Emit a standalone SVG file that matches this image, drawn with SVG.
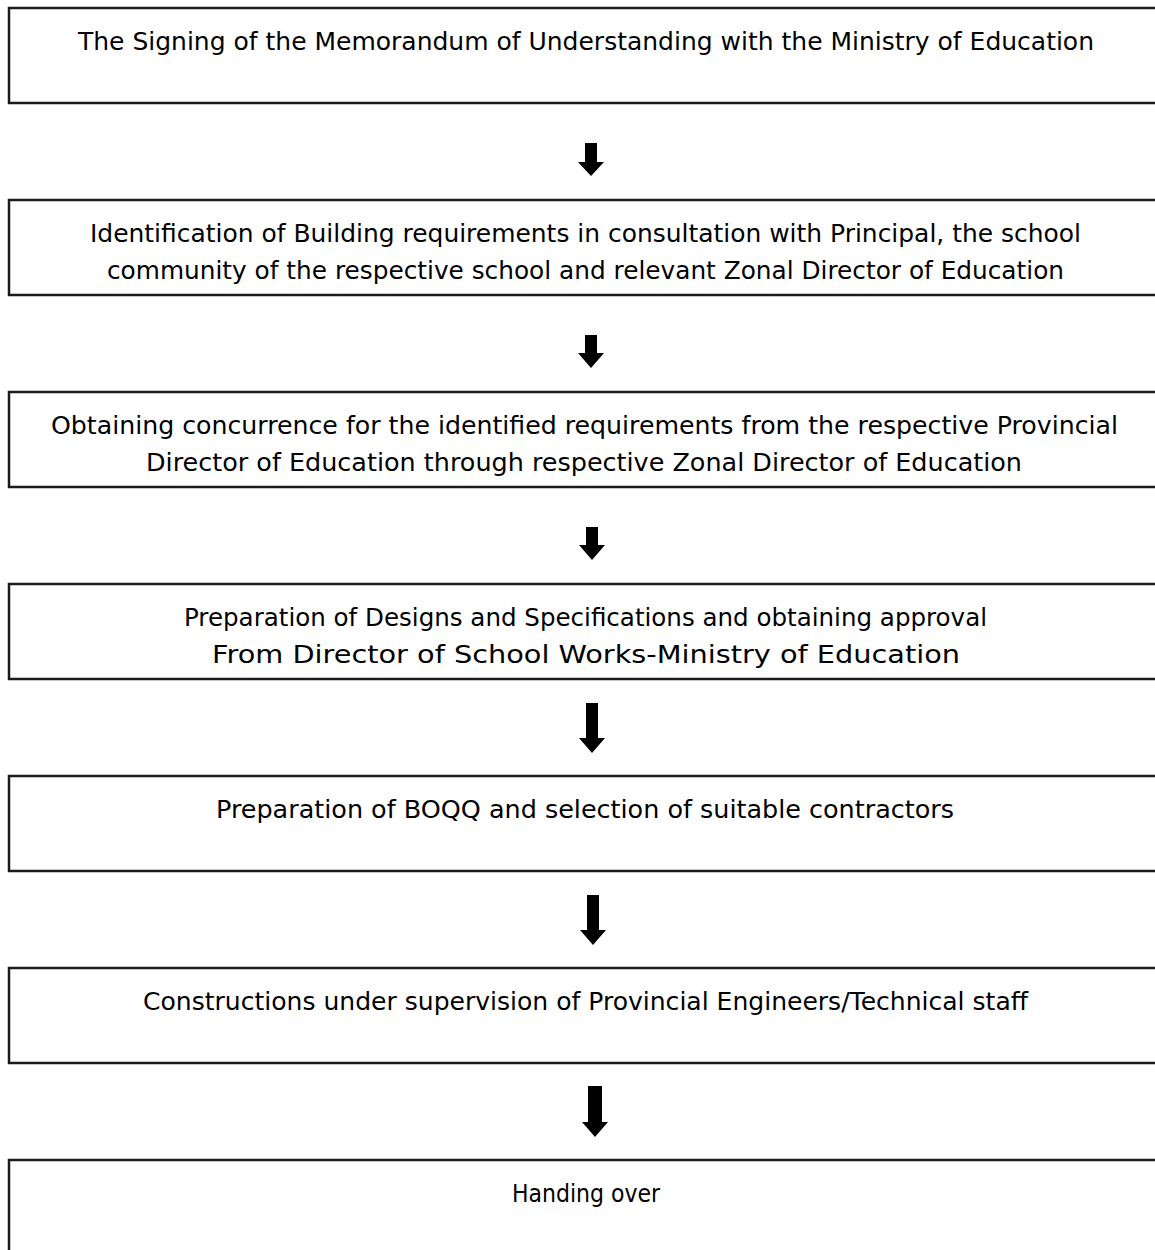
<svg xmlns="http://www.w3.org/2000/svg" width="1155" height="1250" viewBox="0 0 1155 1250">
<style>
.box{fill:#fff;stroke:#1a1a1a;stroke-width:2.5}
.t{font-family:"Comic Sans MS","DejaVu Sans",sans-serif;font-size:24px;fill:#000}
.arr{fill:#000}
</style>
<rect width="1155" height="1250" fill="#fff"/>
<g id="n1"><rect class="box" x="9" y="8" width="1160" height="95"/>
<text class="t" x="78" y="50" textLength="1016" lengthAdjust="spacingAndGlyphs">The Signing of the Memorandum of Understanding with the Ministry of Education</text></g>
<g id="n2"><rect class="box" x="9" y="200" width="1160" height="95"/>
<text class="t" x="90" y="242" textLength="991" lengthAdjust="spacingAndGlyphs">Identification of Building requirements in consultation with Principal, the school</text>
<text class="t" x="107" y="279" textLength="957" lengthAdjust="spacingAndGlyphs">community of the respective school and relevant Zonal Director of Education</text></g>
<g id="n3"><rect class="box" x="9" y="392" width="1160" height="95"/>
<text class="t" x="51" y="434" textLength="1067" lengthAdjust="spacingAndGlyphs">Obtaining concurrence for the identified requirements from the respective Provincial</text>
<text class="t" x="146" y="471" textLength="876" lengthAdjust="spacingAndGlyphs">Director of Education through respective Zonal Director of Education</text></g>
<g id="n4"><rect class="box" x="9" y="584" width="1160" height="95"/>
<text class="t" x="184" y="626" textLength="803" lengthAdjust="spacingAndGlyphs">Preparation of Designs and Specifications and obtaining approval</text>
<text class="t" x="212" y="663" textLength="748" lengthAdjust="spacingAndGlyphs">From Director of School Works-Ministry of Education</text></g>
<g id="n5"><rect class="box" x="9" y="776" width="1160" height="95"/>
<text class="t" x="216" y="818" textLength="738" lengthAdjust="spacingAndGlyphs">Preparation of BOQQ and selection of suitable contractors</text></g>
<g id="n6"><rect class="box" x="9" y="968" width="1160" height="95"/>
<text class="t" x="143" y="1010" textLength="885" lengthAdjust="spacingAndGlyphs">Constructions under supervision of Provincial Engineers/Technical staff</text></g>
<g id="n7"><rect class="box" x="9" y="1160" width="1160" height="120"/>
<text class="t" x="512" y="1202" textLength="148" lengthAdjust="spacingAndGlyphs">Handing over</text></g>
<g id="connectors">
<polygon class="arr" points="585,143 597,143 597,162 604,162 591,176 578,162 585,162"/>
<polygon class="arr" points="585,335 597,335 597,353 604,353 591,368 578,353 585,353"/>
<polygon class="arr" points="586,527 598,527 598,545 605,545 592,560 579,545 586,545"/>
<polygon class="arr" points="586,703 598,703 598,738 605,738 592,753 579,738 586,738"/>
<polygon class="arr" points="587,895 599,895 599,930 606,930 593,945 580,930 587,930"/>
<polygon class="arr" points="588,1086 602,1086 602,1122 608,1122 595,1137 582,1122 588,1122"/>
</g>
</svg>
